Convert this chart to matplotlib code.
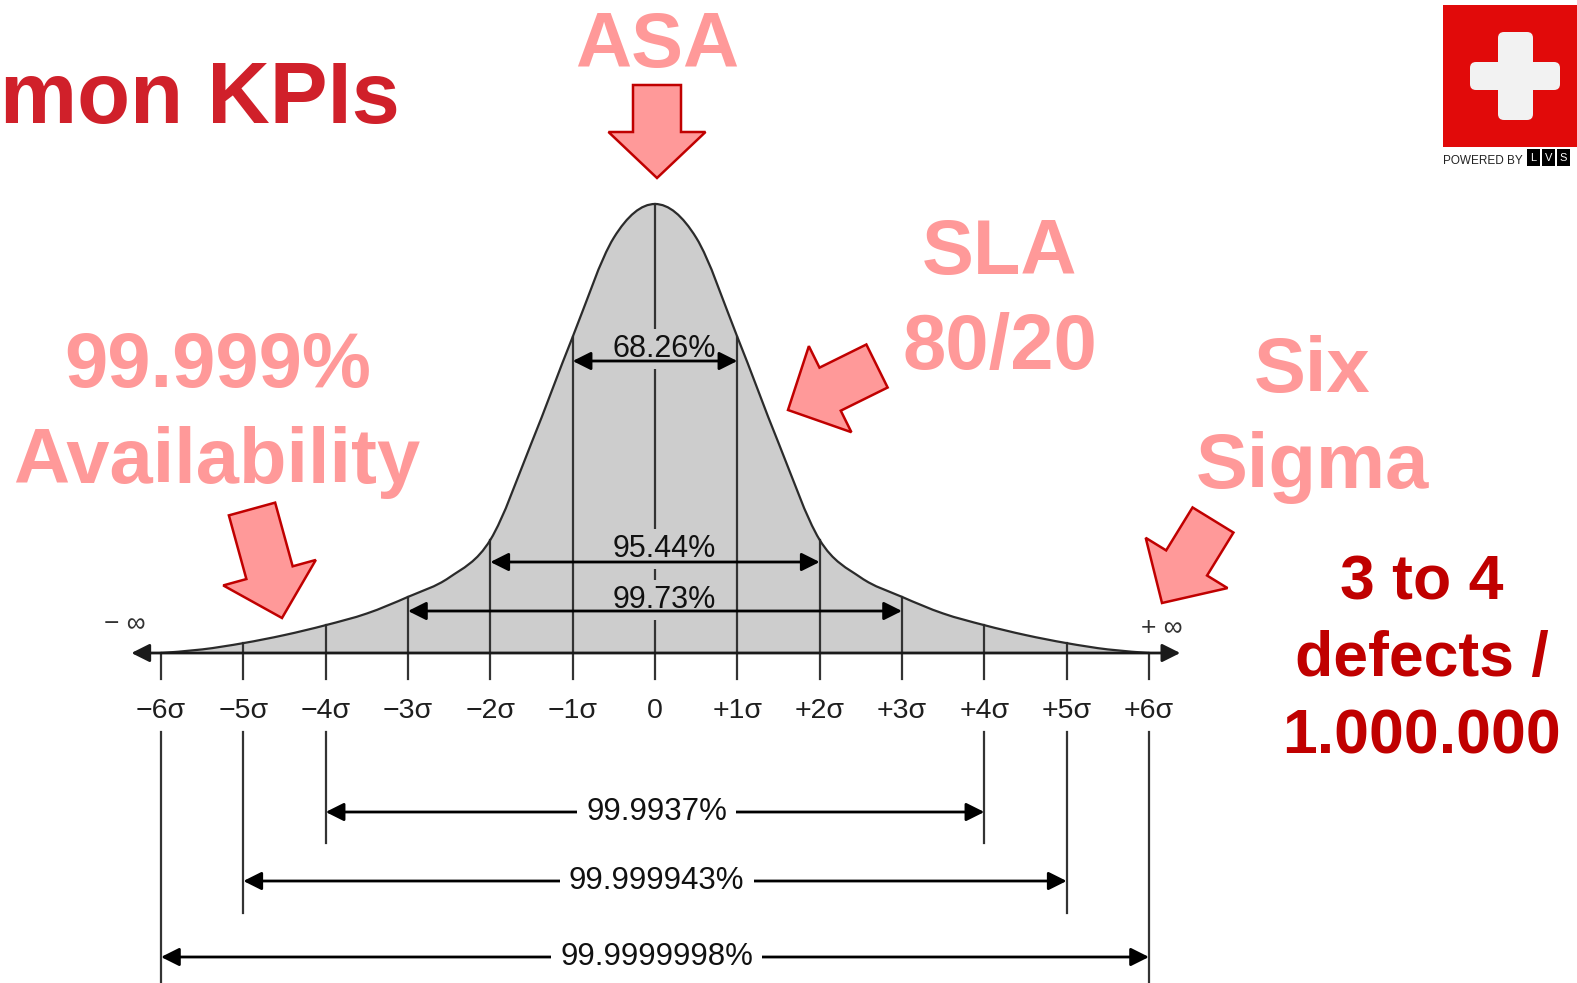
import numpy as np
import matplotlib
matplotlib.use("Agg")
import matplotlib.pyplot as plt
from matplotlib.path import Path
from matplotlib.patches import PathPatch, FancyArrow, Rectangle, FancyBboxPatch

plt.rcParams['font.family'] = ['Liberation Sans', 'DejaVu Sans']

# bell curve: height relative to the peak, read at every half sigma
curve_x = [-6, -5.5, -5, -4.5, -4, -3.5, -3, -2.5, -2, -1.5, -1, -0.5, 0,
           0.5, 1, 1.5, 2, 2.5, 3, 3.5, 4, 4.5, 5, 5.5, 6]
curve_y = [0.0, 0.008, 0.022, 0.04, 0.062, 0.088, 0.125, 0.168, 0.252, 0.468, 0.704, 0.925, 1.0,
           0.925, 0.704, 0.468, 0.252, 0.168, 0.125, 0.088, 0.062, 0.04, 0.022, 0.008, 0.0]

sigma_ticks = [-6, -5, -4, -3, -2, -1, 0, 1, 2, 3, 4, 5, 6]
sigma_labels = ['−6σ', '−5σ', '−4σ', '−3σ', '−2σ', '−1σ', '0',
                '+1σ', '+2σ', '+3σ', '+4σ', '+5σ', '+6σ']

# share of values inside +/- k sigma
band_k = [1, 2, 3, 4, 5, 6]
band_pct = ['68.26%', '95.44%', '99.73%', '99.9937%', '99.999943%', '99.9999998%']

W, H = 1577, 983
fig = plt.figure(figsize=(W / 100, H / 100), dpi=100)
fig.patch.set_facecolor('white')

# chart axes: x in sigma, y in curve height
X0, STEP = 655.0, 82.33
Y0, PEAK = 653.0, 449.0
ax = fig.add_axes([0, 0, 1, 1])
ax.set_xlim(-X0 / STEP, (W - X0) / STEP)
ax.set_ylim(-(H - Y0) / PEAK, Y0 / PEAK)
ax.axis('off')


def row(p):
    # pixel row -> curve units
    return (Y0 - p) / PEAK


# smooth path through the read points (catmull-rom as cubic beziers)
pts = np.column_stack([curve_x, curve_y]).astype(float)
ext = np.vstack([pts[0], pts, pts[-1]])
verts = [pts[0]]
codes = [Path.MOVETO]
for i in range(len(pts) - 1):
    p0, p1, p2, p3 = ext[i], ext[i + 1], ext[i + 2], ext[i + 3]
    verts += [p1 + (p2 - p0) / 6, p2 - (p3 - p1) / 6, p2]
    codes += [Path.CURVE4] * 3
curve = Path(verts, codes)
area = Path(verts + [pts[0]], codes + [Path.LINETO])

ax.add_patch(PathPatch(area, facecolor='#cdcdcd', edgecolor='none', zorder=1))
ax.add_patch(PathPatch(curve, facecolor='none', edgecolor='#2b2b2b', lw=1.6, zorder=4))

line_col = '#333333'
h_at = dict(zip(curve_x, curve_y))
low_end = {4: 843, 5: 913, 6: 983}
for k, lab in zip(sigma_ticks, sigma_labels):
    ax.plot([k, k], [h_at[k], row(679)], color=line_col, lw=1.6, zorder=2)
    ax.text(k, row(718), lab, ha='center', va='baseline', fontsize=20.5, color='#1e1e1e')
    if abs(k) in low_end:
        ax.plot([k, k], [row(732), row(low_end[abs(k)])], color=line_col, lw=1.6, zorder=2)

# horizontal axis with arrow heads
ax.annotate('', xy=(6.38, 0), xytext=(-6.36, 0),
            arrowprops=dict(arrowstyle='<|-|>,head_length=0.5,head_width=0.25',
                            color='#1a1a1a', lw=2, shrinkA=0, shrinkB=0,
                            mutation_scale=22), zorder=5)
ax.text(-6.44, row(624), '− ∞', ha='center', va='center', fontsize=19, color='#333333')
ax.text(6.15, row(628), '+ ∞', ha='center', va='center', fontsize=19, color='#333333')

band_row = [361, 562, 611, 812, 881, 957]
label_row = [357, 557, 608]
for i, (k, pct) in enumerate(zip(band_k, band_pct)):
    y = row(band_row[i])
    ax.annotate('', xy=(k, y), xytext=(-k, y),
                arrowprops=dict(arrowstyle='<|-|>,head_length=0.5,head_width=0.25',
                                color='black', lw=2, shrinkA=0, shrinkB=0,
                                mutation_scale=22), zorder=5)
    if k <= 3:
        ax.text(0.115, row(label_row[i]), pct, ha='center', va='baseline', fontsize=22,
                color='#111111', zorder=3,
                bbox=dict(boxstyle='square,pad=0.15', fc='#cdcdcd', ec='none'))
    else:
        ax.text(0.02, y, pct, ha='center', va='center', fontsize=22.5, color='#111111',
                zorder=6, bbox=dict(boxstyle='square,pad=0.3', fc='white', ec='none'))

# overlay in pixel units for slide text, callout arrows and logo
ov = fig.add_axes([0, 0, 1, 1], zorder=5)
ov.set_xlim(0, W)
ov.set_ylim(H, 0)
ov.axis('off')

pink = '#ff9999'
ov.text(0, 123, 'mon KPIs', ha='left', va='baseline', fontsize=62.5,
        fontweight='bold', color='#d0202a')
ov.text(657, 67, 'ASA', ha='center', va='baseline', fontsize=56, fontweight='bold', color=pink)
ov.text(1000, 274, 'SLA', ha='center', va='baseline', fontsize=56, fontweight='bold', color=pink)
ov.text(1000, 369, '80/20', ha='center', va='baseline', fontsize=56, fontweight='bold', color=pink)
ov.text(218, 387, '99.999%', ha='center', va='baseline', fontsize=56, fontweight='bold', color=pink)
ov.text(217, 483, 'Availability', ha='center', va='baseline', fontsize=56, fontweight='bold', color=pink)
ov.text(1312, 392, 'Six', ha='center', va='baseline', fontsize=56, fontweight='bold', color=pink)
ov.text(1312, 488, 'Sigma', ha='center', va='baseline', fontsize=56, fontweight='bold', color=pink)

dark_red = '#c00000'
for y, txt in zip([600, 676, 754], ['3 to 4', 'defects /', '1.000.000']):
    ov.text(1422, y, txt, ha='center', va='baseline', fontsize=45, fontweight='bold', color=dark_red)


def block_arrow(tail, tip, shaft=48, head=96, head_len=47):
    dx, dy = tip[0] - tail[0], tip[1] - tail[1]
    ov.add_patch(FancyArrow(tail[0], tail[1], dx, dy, width=shaft, head_width=head,
                            head_length=head_len, length_includes_head=True,
                            fc=pink, ec=dark_red, lw=1.8))


block_arrow((657, 85), (657, 178), shaft=48, head=97, head_len=46)
block_arrow((877, 366), (788, 410))
block_arrow((252, 509), (282, 618))
block_arrow((1213, 520), (1162, 603))

# logo
ov.add_patch(Rectangle((1443, 5), W - 1443, 142, fc='#e10a0a', ec='none'))
ov.add_patch(FancyBboxPatch((1470, 62), 90, 28, boxstyle='round,pad=0,rounding_size=6',
                            fc='#f2f2f2', ec='none'))
ov.add_patch(FancyBboxPatch((1498, 32), 35, 88, boxstyle='round,pad=0,rounding_size=6',
                            fc='#f2f2f2', ec='none'))
ov.text(1443, 164, 'POWERED BY', ha='left', va='baseline', fontsize=8.5, color='#222222')
for x0, ch in zip([1527, 1542, 1557], ['L', 'V', 'S']):
    ov.add_patch(Rectangle((x0, 149), 13, 17, fc='black', ec='none'))
    ov.text(x0 + 6.5, 158, ch, ha='center', va='center', fontsize=8, color='white')

fig.savefig('out.png', dpi=100, facecolor='white')
